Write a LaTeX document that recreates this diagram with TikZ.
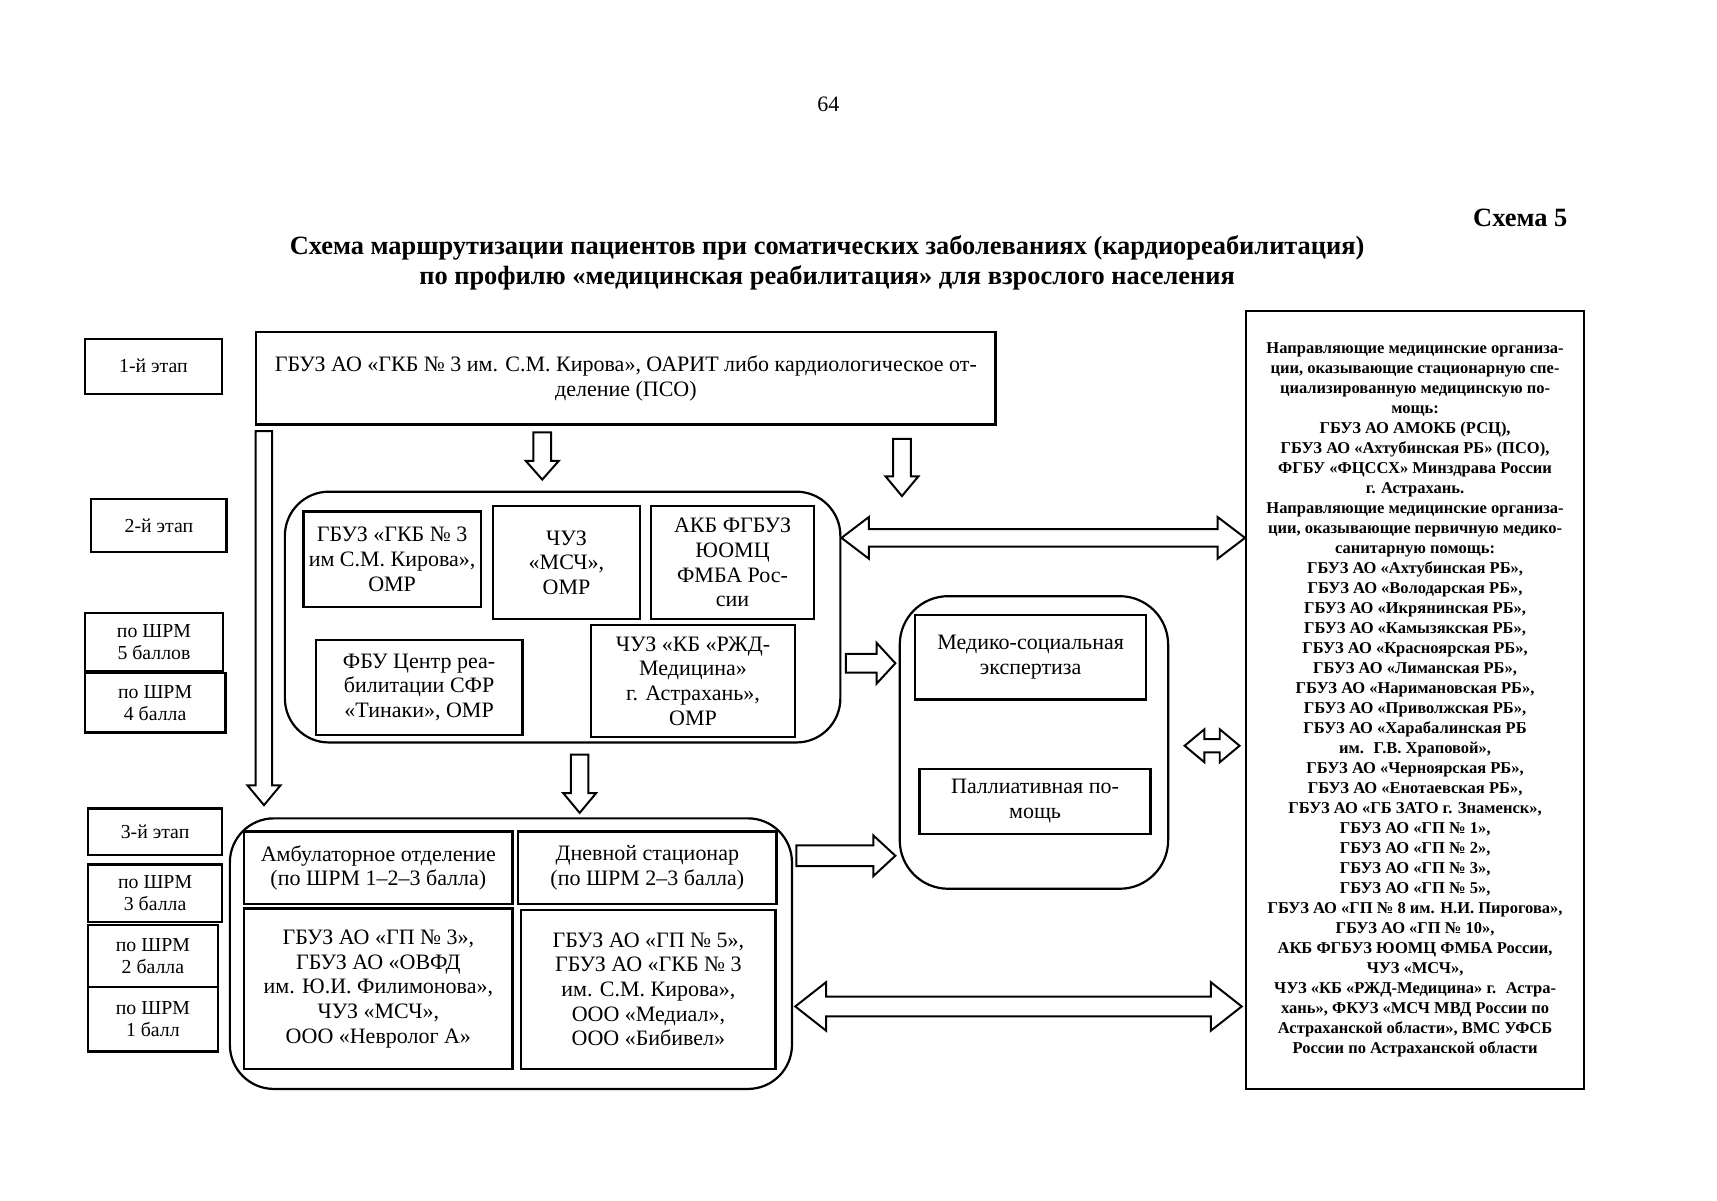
\documentclass[tikz,border=0pt]{standalone}
\usepackage{fontspec}
\setmainfont{Liberation Serif}
\usetikzlibrary{calc}
\newcommand\fsBox{\fontsize{10}{11.2}\selectfont}
\newcommand\fsLab{\fontsize{9}{10}\selectfont}
\newcommand\fsRight{\fontsize{7.5}{9.09}\selectfont\bfseries}
\newcommand\fsTitle{\fontsize{12}{14}\selectfont\bfseries}
\tikzset{
  box/.style={draw, line width=1pt, align=center, inner sep=1pt, font=\fsBox},
  lab/.style={draw, line width=1pt, align=center, inner sep=1pt, font=\fsLab},
  cont/.style={draw, line width=1pt, rounded corners=20pt},
  darrow/.style n args={3}{draw, line width=0.9pt, line join=miter, to path={
    let \p1=(\tikztostart), \p2=(\tikztotarget) in
    (\x1-#1,\y1) -- (\x1-#1,\y2+#3) -- (\x1-#2,\y2+#3) -- (\x1,\y2) --
    (\x1+#2,\y2+#3) -- (\x1+#1,\y2+#3) -- (\x1+#1,\y1) -- cycle}},
  rarrow/.style n args={3}{draw, line width=0.9pt, line join=miter, to path={
    let \p1=(\tikztostart), \p2=(\tikztotarget) in
    (\x1,\y1+#1) -- (\x2-#3,\y1+#1) -- (\x2-#3,\y1+#2) -- (\x2,\y1) --
    (\x2-#3,\y1-#2) -- (\x2-#3,\y1-#1) -- (\x1,\y1-#1) -- cycle}},
  dblarrow/.style n args={3}{draw, line width=0.9pt, line join=miter, to path={
    let \p1=(\tikztostart), \p2=(\tikztotarget) in
    (\x1,\y1) -- (\x1+#3,\y1+#2) -- (\x1+#3,\y1+#1) -- (\x2-#3,\y1+#1) --
    (\x2-#3,\y1+#2) -- (\x2,\y1) -- (\x2-#3,\y1-#2) -- (\x2-#3,\y1-#1) --
    (\x1+#3,\y1-#1) -- (\x1+#3,\y1-#2) -- cycle}}
}
\begin{document}
\begin{tikzpicture}[x=0.5pt,y=-0.5pt]
\fill[white] (0,0) rectangle (1561,1091);
\useasboundingbox (0,0) rectangle (1561,1091);

% header
\node[font=\fontsize{10}{12}\selectfont] (pg) at (753,95) {64};
\node[font=\fsTitle, anchor=east] (sch) at (1432,198) {Схема 5};
\node[font=\fsTitle, align=center] (title) at (752,239) {Схема маршрутизации пациентов при соматических заболеваниях (кардиореабилитация)\\по профилю «медицинская реабилитация» для взрослого населения};

% left labels
\node[lab, minimum width=62.5pt, minimum height=25pt] (L1) at (139.5,333) {1-й этап};
\node[lab, minimum width=61.5pt, minimum height=24pt] (L2) at (144.5,478) {2-й этап};
\node[lab, minimum width=63pt, minimum height=26.5pt] (L5) at (140,583.5) {по ШРМ\\5 баллов};
\node[lab, minimum width=64pt, minimum height=27pt] (L4) at (141,639) {по ШРМ\\4 балла};
\node[lab, minimum width=61pt, minimum height=21pt] (L3) at (141,756) {3-й этап};
\node[lab, minimum width=61pt, minimum height=26pt] (B3) at (141,812) {по ШРМ\\3 балла};
\node[lab, minimum width=59pt, minimum height=28pt] (B2) at (139,869) {по ШРМ\\2 балла};
\node[lab, minimum width=59pt, minimum height=29.5pt] (B1) at (139,926.5) {по ШРМ\\1 балл};

% stage 1
\node[box, minimum width=336pt, minimum height=42pt] (T) at (569,344) {ГБУЗ АО «ГКБ № 3 им. С.М. Кирова», ОАРИТ либо кардиологическое от-\\деление (ПСО)};

% stage 2
\node[cont, minimum width=252.5pt, minimum height=114pt] (S2) at (511.5,561) {};
\node[box, minimum width=80.5pt, minimum height=43.5pt] (A) at (356.5,508.5) {ГБУЗ «ГКБ № 3\\им С.М. Кирова»,\\ОМР};
\node[box, minimum width=67pt, minimum height=51.5pt] (B) at (515,511.5) {ЧУЗ\\«МСЧ»,\\ОМР};
\node[box, minimum width=74pt, minimum height=51.5pt] (C) at (666,511.5) {АКБ ФГБУЗ\\ЮОМЦ\\ФМБА Рос-\\сии};
\node[box, minimum width=94pt, minimum height=43pt] (D) at (381,625) {ФБУ Центр реа-\\билитации СФР\\«Тинаки», ОМР};
\node[box, minimum width=93pt, minimum height=51pt] (E) at (630,619) {ЧУЗ «КБ «РЖД-\\Медицина»\\г. Астрахань»,\\ОМР};

% MSE block
\node[cont, rounded corners=22pt, minimum width=122pt, minimum height=133pt] (M) at (940,675) {};
\node[box, minimum width=105pt, minimum height=38.5pt] (M1) at (937,597.5) {Медико-социальная\\экспертиза};
\node[box, minimum width=105pt, minimum height=29.5pt] (M2) at (941,728.5) {Паллиативная по-\\мощь};

% stage 3
\node[cont, minimum width=255.5pt, minimum height=123pt] (S3) at (464.5,867) {};
\node[box, minimum width=122pt, minimum height=33pt] (P1) at (344,789) {Амбулаторное отделение\\(по ШРМ 1–2–3 балла)};
\node[box, minimum width=117.5pt, minimum height=33pt] (P2) at (588.5,789) {Дневной стационар\\(по ШРМ 2–3 балла)};
\node[box, minimum width=122pt, minimum height=73pt] (Q1) at (344,899) {ГБУЗ АО «ГП № 3»,\\ГБУЗ АО «ОВФД\\им. Ю.И. Филимонова»,\\ЧУЗ «МСЧ»,\\ООО «Невролог А»};
\node[box, minimum width=115.5pt, minimum height=72.5pt] (Q2) at (589.5,899.5) {ГБУЗ АО «ГП № 5»,\\ГБУЗ АО «ГКБ № 3\\им. С.М. Кирова»,\\ООО «Медиал»,\\ООО «Бибивел»};

% right box
\node[draw, line width=1.1pt, minimum width=153.5pt, minimum height=353.5pt] (R) at (1286.5,636.5) {};
\node[font=\fsRight, align=center, anchor=north, inner sep=0pt] (Rt) at (1286.5,311) {Направляющие медицинские организа-\\ции, оказывающие стационарную спе-\\циализированную медицинскую по-\\мощь:\\ГБУЗ АО АМОКБ (РСЦ),\\ГБУЗ АО «Ахтубинская РБ» (ПСО),\\ФГБУ «ФЦССХ» Минздрава России\\г. Астрахань.\\Направляющие медицинские организа-\\ции, оказывающие первичную медико-\\санитарную помощь:\\ГБУЗ АО «Ахтубинская РБ»,\\ГБУЗ АО «Володарская РБ»,\\ГБУЗ АО «Икрянинская РБ»,\\ГБУЗ АО «Камызякская РБ»,\\ГБУЗ АО «Красноярская РБ»,\\ГБУЗ АО «Лиманская РБ»,\\ГБУЗ АО «Наримановская РБ»,\\ГБУЗ АО «Приволжская РБ»,\\ГБУЗ АО «Харабалинская РБ\\им.~ Г.В. Храповой»,\\ГБУЗ АО «Черноярская РБ»,\\ГБУЗ АО «Енотаевская РБ»,\\ГБУЗ АО «ГБ ЗАТО г. Знаменск»,\\ГБУЗ АО «ГП № 1»,\\ГБУЗ АО «ГП № 2»,\\ГБУЗ АО «ГП № 3»,\\ГБУЗ АО «ГП № 5»,\\ГБУЗ АО «ГП № 8 им. Н.И. Пирогова»,\\ГБУЗ АО «ГП № 10»,\\АКБ ФГБУЗ ЮОМЦ ФМБА России,\\ЧУЗ «МСЧ»,\\ЧУЗ «КБ «РЖД-Медицина» г.~ Астра-\\хань», ФКУЗ «МСЧ МВД России по\\Астраханской области», ВМС УФСБ\\России по Астраханской области};

% arrows
\draw[darrow={3.75pt}{7.5pt}{9pt}] ($(T.south west)+(8,5)$) to ($(S3.north west)+(32,-11)$);
\draw[darrow={4pt}{7.5pt}{8.5pt}] ($(T.south)+(-76,6)$) to ($(S2.north)+(-18.5,-10)$);
\draw[darrow={4pt}{7.5pt}{9pt}] ($(T.south east)+(-86,12)$) to ($(T.south east)+(-86,64)$);
\draw[darrow={4pt}{7.5pt}{9pt}] ($(S2.south)+(15.5,10)$) to ($(S3.north)+(62.5,-4)$);

\draw[dblarrow={4pt}{9.5pt}{12.5pt}] ($(S2.east)+(0,-72)$) to ($(R.west)+(0,-147.5)$);
\draw[rarrow={4.25pt}{9.25pt}{8.5pt}] ($(S2.east)+(4,42)$) to ($(M.west)+(-3,-72)$);
\draw[dblarrow={3pt}{7.5pt}{9pt}] ($(M.east)+(14,3)$) to ($(R.west)+(-5,41.5)$);
\draw[rarrow={4.75pt}{9.25pt}{10pt}] ($(S3.east)+(3,-89)$) to ($(M.west)+(-3,103)$);
\draw[dblarrow={4.5pt}{11pt}{14pt}] ($(S3.east)+(2,48)$) to ($(R.west)+(-3,278.5)$);
\end{tikzpicture}
\end{document}
